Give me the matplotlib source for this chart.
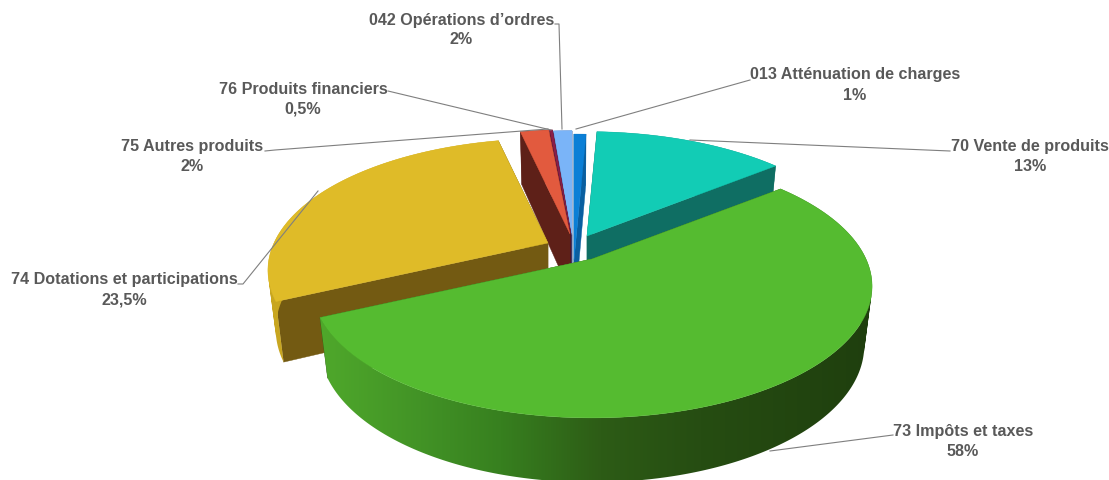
import numpy as np
import matplotlib
matplotlib.use("Agg")
import matplotlib.pyplot as plt
from matplotlib.colors import to_rgb
from matplotlib.patches import PathPatch
from matplotlib.path import Path

# Data: label text and slice shares (%)
categories = ["013 Atténuation de charges", "70 Vente de produits", "73 Impôts et taxes",
              "74 Dotations et participations", "75 Autres produits",
              "76 Produits financiers", "042 Opérations d’ordres"]
label_values = ["1%", "13%", "58%", "23,5%", "2%", "0,5%", "2%"]
drawn_shares = [0.7, 13.5, 53.9, 28.5, 2.0, 0.2, 1.3]

top_colors = ["#0b7fd6", "#12ccb5", "#55bb30", "#dfbb28", "#e25a3e", "#8a1f48", "#7ab4f8"]
face_colors = ["#0a5fa0", "#0f6e63", "#2d5c16", "#735a12", "#5e2018", "#4a1030", "#3b4f80"]
centers = [(574, 261), (587, 237), (592, 260), (548, 244), (570, 235), (571, 235), (572, 236)]
radii = [1.26, 1.0, 1.0, 1.0, 1.0, 1.0, 1.0]
draw_order = [6, 5, 0, 4, 1, 3, 2]

A, B, K = 274.0, 126.0, 0.207      # projection of the unit disc
H, HK, LEAN = 58.0, 0.10, 0.972    # extrusion

label_pos = [(855, 75), (1030, 147), (963, 432), (124, 280), (192, 147), (303, 89), (462, 20)]
value_pos = [(855, 95), (1030, 167), (963, 452), (124, 300), (192, 167), (303, 109), (461, 40)]
leaders = [
    [(750, 81), (576, 130)],
    [(950, 152), (690, 141)],
    [(893, 436), (770, 452)],
    [(238, 285), (243, 285), (318, 192)],
    [(265, 152), (275, 151), (548, 130)],
    [(388, 92), (551, 131)],
    [(555, 25), (559, 25), (562, 130)],
]
wall_x = [320, 420, 500, 600, 700, 870]
wall_c = ["#4fa82b", "#429326", "#37801f", "#2d5c16", "#264d12", "#1f3f0e"]


def project(center, theta, r=1.0, down=False):
    """theta clockwise from the back of the pie, radians."""
    u, v = r * np.sin(theta), r * np.cos(theta)
    d = 1 + K * v
    x = A * u / d
    y = -B * v / d
    if down:
        x = x * LEAN
        y = y + H / (1 + HK * v)
    return center[0] + x, center[1] + y


def wall_path(xu, yu, xl, yl):
    """Union of the wall's quads, each wound the same way."""
    verts, codes = [], []
    for j in range(len(xu) - 1):
        q = np.array([[xu[j], yu[j]], [xu[j + 1], yu[j + 1]], [xl[j + 1], yl[j + 1]], [xl[j], yl[j]]])
        area = np.sum(q[:, 0] * np.roll(q[:, 1], -1) - np.roll(q[:, 0], -1) * q[:, 1])
        if area < 0:
            q = q[::-1]
        verts.extend(q.tolist() + [q[0].tolist()])
        codes.extend([Path.MOVETO, Path.LINETO, Path.LINETO, Path.LINETO, Path.CLOSEPOLY])
    return Path(verts, codes)


fig = plt.figure(figsize=(11.09, 4.81), dpi=100)
ax = fig.add_axes([0, 0, 1, 1])

edges = np.concatenate([[0], np.cumsum(drawn_shares)]) / np.sum(drawn_shares) * 2 * np.pi

for i in draw_order:
    c = centers[i]
    r = radii[i]
    t0, t1 = edges[i], edges[i + 1]
    th = np.linspace(t0, t1, max(8, int((t1 - t0) * 120)))
    # cut faces
    for t in (t0, t1):
        xa, ya = project(c, t, 0.0)
        xb, yb = project(c, t, r)
        xc, yc = project(c, t, r, True)
        xd, yd = project(c, t, 0.0, True)
        ax.fill([xa, xb, xc, xd], [ya, yb, yc, yd], color=face_colors[i], lw=0.3, zorder=2)
    # outer wall
    xu, yu = project(c, th, r)
    xl, yl = project(c, th, r, True)
    path = wall_path(xu, yu, xl, yl)
    if i == 2:
        gx = np.linspace(min(xu.min(), xl.min()), max(xu.max(), xl.max()), 400)
        ylo, yhi = min(yu.min(), yl.min()), max(yu.max(), yl.max())
        grad = np.zeros((1, gx.size, 3))
        for k in range(3):
            grad[0, :, k] = np.interp(gx, wall_x, [to_rgb(w)[k] for w in wall_c])
        im = ax.imshow(grad, extent=[gx[0], gx[-1], yhi, ylo], aspect="auto",
                       interpolation="bilinear", zorder=2)
        im.set_clip_path(path, transform=ax.transData)
    else:
        col = "#c8a620" if i == 3 else face_colors[i]
        ax.add_patch(PathPatch(path, facecolor=col, edgecolor="none", zorder=2))
    # top
    ax.fill(np.concatenate([[c[0]], xu]), np.concatenate([[c[1]], yu]),
            color=top_colors[i], lw=0.3, zorder=2)

for pts in leaders:
    xs, ys = zip(*pts)
    ax.plot(xs, ys, color="#7f7f7f", lw=0.8, zorder=5)

tcol = "#595959"
for name, val, p, q in zip(categories, label_values, label_pos, value_pos):
    ax.text(p[0], p[1], name, ha="center", va="center", fontsize=11.6, fontweight="bold",
            family="Liberation Sans", color=tcol, zorder=6)
    ax.text(q[0], q[1], val, ha="center", va="center", fontsize=11.6, fontweight="bold",
            family="Liberation Sans", color=tcol, zorder=6)

ax.set_xlim(0, 1109)
ax.set_ylim(481, 0)
ax.axis("off")
fig.savefig("out.png", dpi=100, facecolor="white")
